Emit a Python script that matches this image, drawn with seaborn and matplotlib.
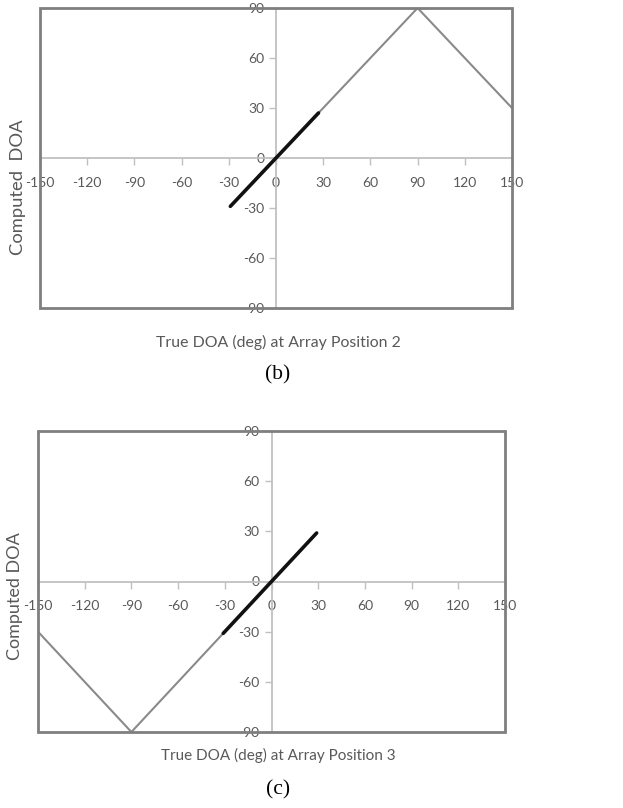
import matplotlib
matplotlib.use("Agg")
import matplotlib.pyplot as plt
from matplotlib.patches import Rectangle
import seaborn as sns

# ---- data ----
x_ticks = [-150, -120, -90, -60, -30, 0, 30, 60, 90, 120, 150]
y_ticks = [-90, -60, -30, 0, 30, 60, 90]

b_gray_x = [27, 90, 150]
b_gray_y = [27, 90, 30]
b_black_x = [-29, 27]
b_black_y = [-29, 27]

c_gray_x = [-150, -90, -31]
c_gray_y = [-30, -90, -31]
c_black_x = [-31, 29]
c_black_y = [-31, 29]

b_xlabel = "True DOA (deg) at Array Position 2"
b_ylabel = "Computed  DOA"
c_xlabel = "True DOA (deg) at Array Position 3"
c_ylabel = "Computed DOA"

sns.set_theme(style="white")
plt.rcParams["font.family"] = ["Lato", "DejaVu Sans"]

W, H = 623, 808
fig = plt.figure(figsize=(W / 100, H / 100), dpi=100)

TXT = "#595959"
ZERO = "#c0c0c0"
FRAME = "#7f7f7f"


def panel(rect_px, gx, gy, bx, by):
    l, t, r, b = rect_px
    ax = fig.add_axes([l / W, 1 - b / H, (r - l) / W, (b - t) / H])
    ax.set_facecolor("white")
    sns.lineplot(x=gx, y=gy, ax=ax, color="#8a8a8a", linewidth=1.5, sort=False, zorder=3)
    sns.lineplot(x=bx, y=by, ax=ax, color="#111111", linewidth=2.6, sort=False, zorder=4)
    ax.set_xlim(-150, 150)
    ax.set_ylim(-90, 90)
    ax.set_xticks(x_ticks)
    ax.set_yticks(y_ticks)
    ax.set_xticklabels([str(v) for v in x_ticks])
    ax.set_yticklabels([str(v) for v in y_ticks])
    for s in ("left", "bottom"):
        ax.spines[s].set_position(("data", 0))
        ax.spines[s].set_color(ZERO)
        ax.spines[s].set_linewidth(1.3)
        ax.spines[s].set_zorder(1)
    for s in ("top", "right"):
        ax.spines[s].set_visible(False)
    ax.tick_params(axis="x", direction="out", length=5, width=1, color=ZERO,
                   labelcolor=TXT, labelsize=10, pad=8.5)
    ax.tick_params(axis="y", direction="out", length=5, width=1, color=ZERO,
                   labelcolor=TXT, labelsize=10, pad=3.5)
    ax.tick_params(left=True, bottom=True)
    ax.set_xlabel("")
    ax.set_ylabel("")
    ax.add_patch(Rectangle((0, 0), 1, 1, transform=ax.transAxes, fill=False,
                           edgecolor=FRAME, linewidth=2, clip_on=False, zorder=10))
    return ax


panel((40, 8, 512, 308), b_gray_x, b_gray_y, b_black_x, b_black_y)
panel((38, 431, 505, 732), c_gray_x, c_gray_y, c_black_x, c_black_y)

fig.text(278 / W, 1 - 342 / H, b_xlabel, ha="center", va="center", color=TXT, fontsize=11.4)
fig.text(18 / W, 1 - 187 / H, b_ylabel, ha="center", va="center", color=TXT, fontsize=13.2, rotation=90)
fig.text(278 / W, 1 - 375 / H, "(b)", ha="center", va="center", color="black", fontsize=15.5,
         family="Liberation Serif")

fig.text(278 / W, 1 - 755 / H, c_xlabel, ha="center", va="center", color=TXT, fontsize=11)
fig.text(15 / W, 1 - 596 / H, c_ylabel, ha="center", va="center", color=TXT, fontsize=13, rotation=90)
fig.text(278 / W, 1 - 790 / H, "(c)", ha="center", va="center", color="black", fontsize=15.5,
         family="Liberation Serif")

fig.savefig("out.png", dpi=100, facecolor="white")
